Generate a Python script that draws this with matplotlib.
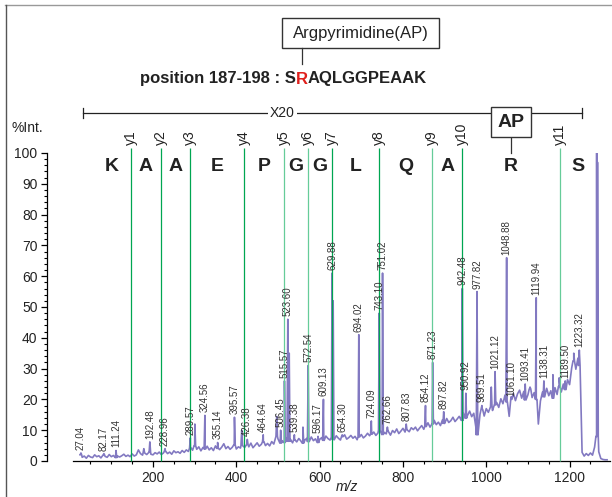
import numpy as np
import matplotlib.pyplot as plt
from matplotlib.patches import Rectangle
from matplotlib.lines import Line2D
from matplotlib.offsetbox import TextArea, HPacker, AnnotationBbox

plt.rcParams['font.family'] = ['Liberation Sans', 'DejaVu Sans']

# Baseline of the spectrum, one value every 5 m/z starting at 25
base_start = 25
base_step = 5
base_int = [
    2.0, 1.2, 1.6, 0.9, 1.8, 1.3, 1.1, 2.0, 1.4, 1.7, 1.0, 1.9, 1.5, 1.2, 2.1, 1.4, 1.8, 1.1, 1.6, 1.3,
    1.7, 2.2, 1.5, 1.9, 1.4, 2.3, 1.6, 2.0, 3.6, 2.4, 1.9, 2.6, 2.1, 2.8, 2.2, 2.0, 2.7, 2.3, 2.9, 2.1,
    2.6, 3.1, 2.4, 2.9, 2.2, 3.3, 2.7, 3.0, 2.5, 3.4, 2.8, 3.6, 3.1, 4.2, 3.5, 5.0, 3.8, 4.6, 3.3, 4.4,
    3.9, 4.8, 3.6, 4.3, 3.4, 4.9, 4.1, 3.7, 4.5, 5.6, 4.0, 4.7, 3.8, 4.4, 5.2, 3.9, 4.6, 4.2, 5.0, 4.4,
    5.3, 4.6, 5.8, 4.3, 5.1, 5.9, 4.8, 5.4, 6.2, 5.0, 5.7, 4.9, 6.3, 5.5, 8.0, 7.2, 5.8, 6.6, 6.0, 7.4,
    6.4, 7.0, 5.9, 6.8, 6.2, 7.3, 6.5, 5.8, 6.9, 7.4, 6.3, 7.8, 6.6, 7.2, 6.0, 7.0, 7.6, 6.7, 8.1, 7.3,
    6.8, 7.7, 6.9, 8.2, 7.4, 6.8, 7.9, 8.5, 7.1, 7.6, 8.3, 7.4, 8.0, 6.9, 7.8, 8.6, 7.5, 8.1, 9.0, 8.2,
    8.7, 9.4, 8.3, 9.1, 10.0, 8.6, 9.3, 8.8, 9.6, 8.4, 9.9, 9.2, 10.4, 8.9, 9.7, 10.6, 9.4, 10.1, 9.5, 10.8,
    10.2, 11.0, 9.8, 10.7, 11.5, 10.3, 11.2, 12.4, 11.0, 12.0, 13.2, 11.8, 12.6, 11.5, 13.4, 12.2, 13.8, 12.5, 13.1, 14.2,
    12.8, 13.6, 14.5, 13.2, 15.6, 13.9, 14.8, 16.2, 14.4, 15.5, 11.0, 8.5, 15.2, 16.8, 14.6, 17.0, 15.8, 17.6, 16.4, 18.2,
    19.0, 17.4, 20.2, 18.6, 21.4, 19.2, 14.5, 20.8, 22.0, 19.6, 21.8, 23.0, 20.4, 22.6, 19.8, 21.5, 23.4, 20.6, 22.2, 20.0,
    12.0, 19.5, 22.4, 20.8, 23.6, 21.2, 22.8, 20.4, 23.8, 21.6, 24.2, 22.4, 25.0, 23.2, 26.4, 24.8, 30.2, 32.5, 29.8, 33.4,
    31.0, 2.8, 1.6, 2.4, 1.8, 2.6, 1.9, 4.5, 8.0, 3.0, 0.8, 0.5, 0.4, 0.4,
]

# Labelled peaks
peak_mz = [27.04, 82.17, 111.24, 192.48, 228.96, 289.57, 324.56, 355.14, 395.57, 426.38,
           464.64, 506.45, 515.57, 523.60, 539.38, 572.54, 596.17, 609.13, 629.88, 654.30,
           694.02, 724.09, 743.10, 751.02, 762.66, 807.83, 854.12, 871.23, 897.82, 942.48,
           950.92, 977.82, 989.51, 1021.12, 1048.88, 1061.10, 1093.41, 1119.94, 1138.31,
           1189.50, 1223.32]
peak_int = [2.6, 2.4, 3.4, 6.2, 4.0, 7.5, 14.8, 6.0, 14.2, 7.0,
            8.5, 10.0, 26.0, 46.0, 8.5, 31.0, 8.0, 20.0, 61.0, 8.5,
            41.0, 13.0, 48.0, 61.0, 11.0, 12.0, 18.0, 32.0, 16.0, 56.0,
            22.0, 55.0, 18.0, 29.0, 66.0, 20.0, 25.0, 53.0, 26.0,
            26.0, 36.0]

# Unlabelled peaks
extra_mz = [178, 300.5, 413, 497, 527, 560, 632.5, 1012, 1105, 1160, 1175, 1210, 1265, 1267]
extra_int = [4.0, 12.0, 10.0, 14.5, 35.0, 11.0, 52.0, 24.0, 24.0, 28.0, 27.0, 35.0, 100.0, 97.0]

# y-ion series
ion_mz = [147.11, 218.15, 289.19, 418.23, 515.28, 572.30, 629.32, 742.41, 870.47, 941.50, 1177.63]
ion_names = ['y1', 'y2', 'y3', 'y4', 'y5', 'y6', 'y7', 'y8', 'y9', 'y10', 'y11']
ion_dark = [True, True, True, True, False, False, True, True, False, True, False]

residue_mz = [101, 182.6, 253.7, 353.7, 466.8, 543.8, 600.8, 685.9, 806.4, 906, 1059.6, 1221]
residues = ['K', 'A', 'A', 'E', 'P', 'G', 'G', 'L', 'Q', 'A', 'R', 'S']

# Build spectrum trace
base_mz = base_start + base_step * np.arange(len(base_int))
xs = list(base_mz)
ys = list(base_int)
for m, h in zip(peak_mz + extra_mz, peak_int + extra_int):
    foot = base_int[int(round((m - base_start) / base_step))]
    xs += [m - 1.8, m, m + 1.8]
    ys += [foot, h, foot]
order = np.argsort(xs, kind='stable')
xs = np.array(xs)[order]
ys = np.array(ys)[order]

W, H = 612, 497
fig = plt.figure(figsize=(W / 100, H / 100), dpi=100)
ax = fig.add_axes([73 / W, 36 / H, (610 - 73) / W, (461 - 153) / H])

spec_color = '#8279c1'
dark_green = '#00a651'
light_green = '#66cc99'
txt = '#222222'

ax.plot(xs, ys, color=spec_color, lw=1.2, zorder=2)

for m, h in zip(peak_mz, peak_int):
    ax.text(m, h + 1.0, '{0:.2f}'.format(m), rotation=90, ha='center', va='bottom',
            fontsize=7, color='#333333', zorder=4)

ax.vlines(ion_mz, 0, 101.5, colors=[dark_green if d else light_green for d in ion_dark],
          lw=0.9, zorder=3, clip_on=False)
for m, name in zip(ion_mz, ion_names):
    ax.text(m, 102.6, name, rotation=90, ha='center', va='bottom', fontsize=10,
            color=txt, clip_on=False)

for m, r in zip(residue_mz, residues):
    ax.text(m, 95.5, r, ha='center', va='center', fontsize=14, fontweight='bold', color=txt)

# X20 bracket
ax.plot([31, 1230], [113, 113], color=txt, lw=0.9, clip_on=False, zorder=3)
ax.plot([31, 31], [111.4, 114.6], color=txt, lw=0.9, clip_on=False, zorder=3)
ax.plot([1230, 1230], [111.4, 114.6], color=txt, lw=0.9, clip_on=False, zorder=3)
ax.text(510, 113, 'X20', ha='center', va='center', fontsize=10, color=txt, zorder=4,
        bbox=dict(facecolor='white', edgecolor='none', pad=1.5))

# AP box
ax.add_patch(Rectangle((1011.6, 105.2), 95.4, 9.7, facecolor='white', edgecolor='#333333',
                       lw=1.0, clip_on=False, zorder=5))
ax.text(1059.6, 110.05, 'AP', ha='center', va='center', fontsize=14, fontweight='bold',
        color=txt, zorder=6)
ax.plot([1059.6, 1059.6], [99.9, 105.2], color='#333333', lw=0.9, clip_on=False, zorder=3)

ax.set_xlim(8, 1297)
ax.set_ylim(0, 100)
ax.spines['top'].set_visible(False)
ax.spines['right'].set_visible(False)
ax.spines['left'].set_position(('outward', 19))
ax.set_xticks([200, 400, 600, 800, 1000, 1200])
ax.set_xticks(np.arange(50, 1300, 50), minor=True)
ax.set_yticks(np.arange(0, 101, 10))
ax.set_yticks(np.arange(0, 101, 2), minor=True)
ax.tick_params(which='major', length=4, width=0.9, labelsize=10, labelcolor=txt, pad=2.5)
ax.tick_params(which='minor', length=2, width=0.8)
ax.tick_params(axis='x', which='major', pad=3)
for s in ['left', 'bottom']:
    ax.spines[s].set_linewidth(0.9)

fig.text(27 / W, 1 - 128 / H, '%Int.', ha='center', va='center', fontsize=10, color=txt)
fig.text(347 / W, 1 - 487 / H, 'm/z', ha='center', va='center', fontsize=10,
         style='italic', color=txt)

# Argpyrimidine callout
fig.patches.append(Rectangle((281.7 / W, 1 - 48.3 / H), 157.6 / W, 30 / H, transform=fig.transFigure,
                             facecolor='white', edgecolor='#333333', lw=1.0))
fig.text(360.5 / W, 1 - 33.3 / H, 'Argpyrimidine(AP)', ha='center', va='center', fontsize=12, color=txt)
fig.lines.append(Line2D([301.7 / W, 301.7 / W], [1 - 48.3 / H, 1 - 64 / H], transform=fig.transFigure,
                        color='#333333', lw=0.9))

# Title with red R
parts = [TextArea('position 187-198 : S', textprops=dict(fontsize=12, fontweight='bold', color=txt)),
         TextArea('R', textprops=dict(fontsize=12, fontweight='bold', color='#e0201c')),
         TextArea('AQLGGPEAAK', textprops=dict(fontsize=12, fontweight='bold', color=txt))]
pack = HPacker(children=parts, pad=0, sep=0, align='baseline')
fig.add_artist(AnnotationBbox(pack, (283.5 / W, 1 - 79 / H), xycoords='figure fraction',
                              frameon=False, box_alignment=(0.5, 0.5)))

# Outer frame
fig.lines.append(Line2D([5 / W, 1], [1 - 4.5 / H, 1 - 4.5 / H], transform=fig.transFigure,
                        color='#999999', lw=1.0))
fig.lines.append(Line2D([5.5 / W, 5.5 / W], [0, 1 - 4.5 / H], transform=fig.transFigure,
                        color='#555555', lw=1.0))

fig.savefig('out.png', dpi=100)
